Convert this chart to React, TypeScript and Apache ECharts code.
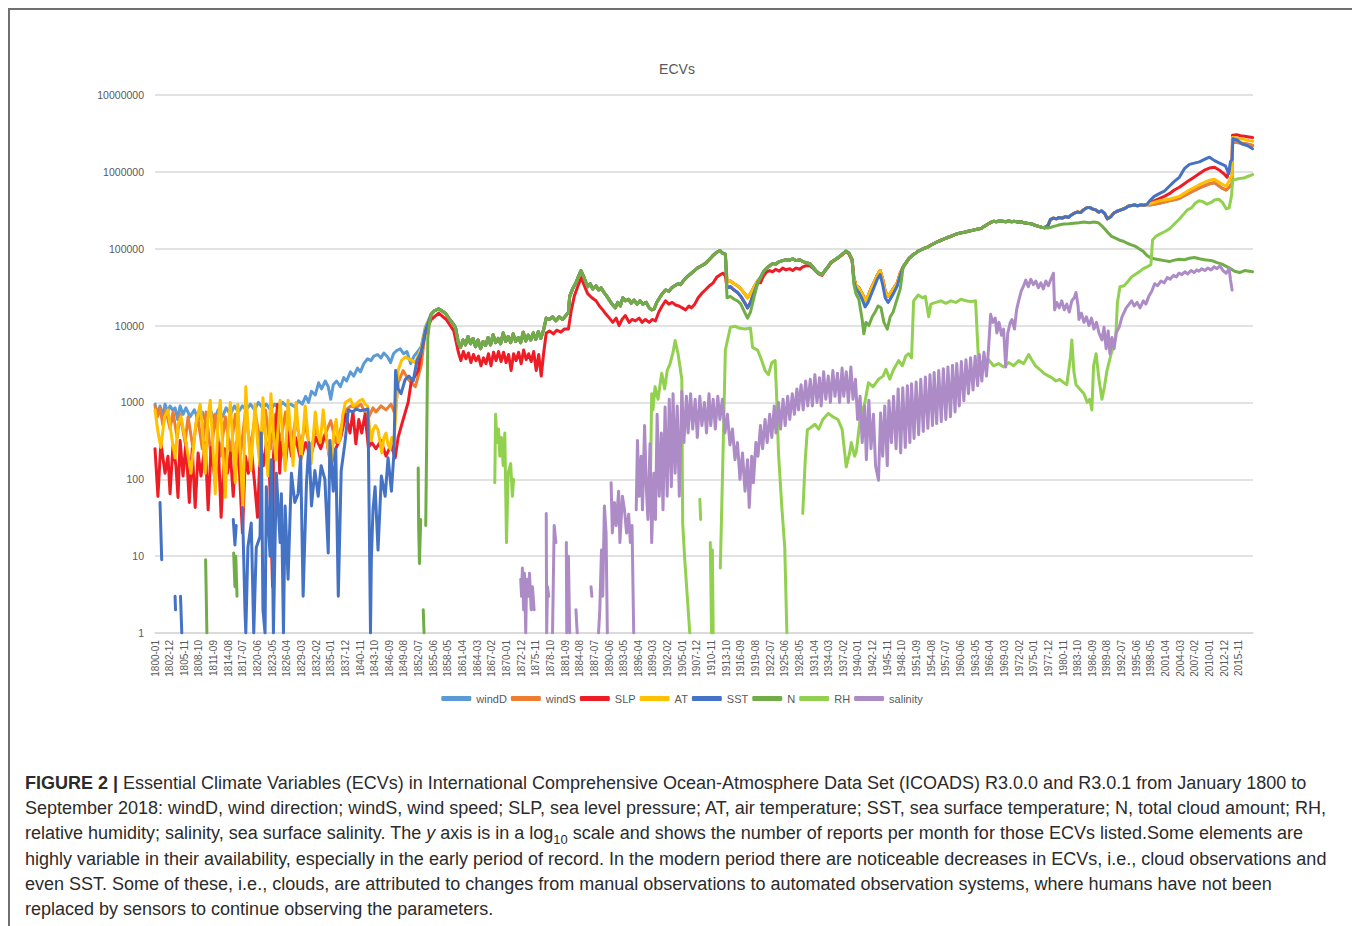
import React, { useEffect, useRef } from "react";
import * as echarts from "echarts";

type P = [number, number] | null;

// ---- categories (months 1800-01 .. 2018-09) ----
const FIRST_YEAR = 1800;
const MONTH_COUNT = 2625;
const monthLabels: string[] = [];
for (let i = 0; i < MONTH_COUNT; i++) {
  const y = FIRST_YEAR + Math.floor(i / 12);
  const m = (i % 12) + 1;
  monthLabels.push(`${y}-${m < 10 ? "0" : ""}${m}`);
}
const yTickValues = [1, 10, 100, 1000, 10000, 100000, 1000000, 10000000];
const seriesNames = ["windD", "windS", "SLP", "AT", "SST", "N", "RH", "salinity"];

// ---- readings: [decimal year, reports per month]; null = gap ----
const windDEarly: P[] = [[1800.0,950],[1800.5,700],[1801.0,900],[1801.5,650],[1802.0,950],[1802.5,750],[1803.0,900],[1803.5,800],[1804.0,850],[1804.5,600],[1805.0,900],[1805.6,700],[1806.2,850],[1807.0,650],[1807.8,800],[1808.6,600],[1809.4,750],[1810.2,550],[1811.0,800],[1811.8,600],[1812.6,800],[1813.4,650],[1814.2,850],[1815.0,700],[1815.8,900],[1816.6,750],[1817.4,900],[1818.2,800],[1819.0,950],[1819.8,800],[1820.6,1000],[1821.4,850],[1822.2,950],[1823.0,800],[1823.8,950],[1824.6,850],[1825.4,1000],[1826.2,900],[1827.0,950],[1827.8,880],[1828.6,1050],[1829.3,950],[1830.0,1200],[1830.6,1000],[1831.2,1400],[1831.9,1250],[1832.6,1800],[1833.2,1500],[1833.9,1900],[1834.5,1600],[1835.0,1100],[1835.5,1700],[1836.2,1900],[1836.9,1600],[1837.6,2100],[1838.2,1900],[1838.9,2500],[1839.6,2200],[1840.3,2800],[1840.9,2500],[1841.6,3200],[1842.3,3700],[1843.0,3500],[1843.6,4000],[1844.3,4200],[1845.0,3800],[1845.6,4400],[1846.3,3900],[1846.9,3300],[1847.5,4300],[1848.1,4700],[1848.8,5000],[1849.5,4300],[1850.2,4600],[1850.9,3200],[1851.6,4000],[1852.3,4600],[1853.0,5300],[1853.8,9500]];

const windSEarly: P[] = [[1800.0,900],[1800.5,650],[1801.0,850],[1801.6,500],[1802.2,800],[1803.0,450],[1803.6,750],[1804.4,350],[1805.0,700],[1806.0,300],[1806.6,650],[1807.6,250],[1808.4,700],[1809.4,250],[1810.2,750],[1811.2,200],[1812.0,700],[1813.0,200],[1814.0,650],[1815.0,220],[1816.0,700],[1817.0,200],[1818.0,750],[1819.0,250],[1820.0,700],[1821.0,300],[1822.0,800],[1823.0,250],[1824.0,700],[1825.0,300],[1826.0,750],[1827.0,250],[1828.0,600],[1829.0,300],[1830.0,500],[1831.0,220],[1832.0,450],[1833.0,300],[1834.0,400],[1835.0,580],[1836.0,300],[1837.0,450],[1838.0,800],[1839.0,900],[1840.0,850],[1841.0,950],[1842.0,700],[1842.6,650],[1843.4,850],[1844.0,750],[1845.0,900],[1846.0,800],[1847.0,950],[1847.8,700],[1848.4,1800],[1849.4,2600],[1850.4,2000],[1851.8,1600],[1853.0,3000],[1853.8,8500]];

const slpEarly: P[] = [[1800.0,250],[1800.6,60],[1801.2,300],[1802.0,120],[1802.6,200],[1803.0,65],[1803.6,280],[1804.2,150],[1804.6,58],[1805.0,320],[1805.6,110],[1806.2,300],[1806.8,50],[1807.4,250],[1808.0,43],[1808.6,220],[1809.2,110],[1810.0,300],[1810.6,40],[1811.2,260],[1812.0,90],[1812.6,300],[1813.2,32],[1813.8,250],[1814.4,120],[1815.0,220],[1815.6,60],[1816.2,300],[1816.8,120],[1817.4,20],[1818.0,200],[1818.6,120],[1819.2,250],[1819.8,90],[1820.4,32],[1821.0,280],[1821.6,150],[1822.2,300],[1822.8,100],[1823.4,4],[1823.6,200],[1824.4,950],[1824.8,120],[1825.2,300],[1826.0,160],[1826.6,400],[1827.2,200],[1828.0,350],[1829.0,180],[1830.0,300],[1831.0,200],[1832.0,350],[1833.0,250],[1834.0,400],[1835.0,150],[1836.0,250],[1837.0,350],[1838.0,700],[1838.8,400],[1839.4,750],[1840.0,290],[1840.6,600],[1841.2,400],[1841.8,700],[1842.5,260],[1843.2,300],[1844.0,250],[1845.0,320],[1846.0,200],[1847.0,280],[1847.8,190],[1848.4,350],[1849.4,600],[1850.4,1000],[1851.0,1800],[1852.4,2600],[1853.0,4500],[1853.8,8000]];

const atEarly: P[] = [[1800.0,800],[1800.6,420],[1801.2,260],[1801.9,650],[1802.6,800],[1803.3,350],[1804.0,190],[1804.6,500],[1805.2,650],[1806.2,300],[1807.2,120],[1808.1,500],[1809.0,950],[1809.5,400],[1810.0,120],[1810.5,600],[1811.0,1070],[1811.5,300],[1812.0,65],[1812.5,500],[1813.0,1070],[1813.5,250],[1814.0,58],[1814.5,400],[1815.0,1000],[1815.5,300],[1816.0,90],[1816.5,950],[1817.0,200],[1817.5,43],[1818.1,1600],[1818.6,400],[1819.1,130],[1819.9,950],[1820.4,300],[1820.9,150],[1821.5,1150],[1822.0,350],[1822.5,110],[1823.1,1300],[1823.6,400],[1824.1,180],[1824.9,1070],[1825.4,350],[1825.9,130],[1826.5,1070],[1827.0,400],[1827.5,150],[1828.1,1000],[1828.6,400],[1829.1,180],[1829.9,900],[1830.5,350],[1831.1,160],[1831.9,750],[1832.4,400],[1832.9,300],[1833.5,800],[1834.0,400],[1834.5,250],[1835.1,140],[1835.6,400],[1836.1,600],[1836.5,300],[1836.9,350],[1837.4,700],[1837.9,1000],[1838.4,1050],[1838.9,1100],[1839.5,900],[1840.1,950],[1840.7,1050],[1841.3,1100],[1841.8,950],[1842.3,900],[1842.7,500],[1843.1,320],[1843.5,450],[1843.9,500],[1844.4,440],[1844.8,300],[1845.2,220],[1845.6,350],[1846.0,400],[1846.4,280],[1846.8,250],[1847.2,350],[1847.6,300],[1848.0,800],[1848.4,2600],[1849.1,3500],[1849.8,3900],[1850.8,3600],[1851.8,3300],[1852.5,4200],[1853.0,5000],[1853.8,9000]];

const sstEarly: P[] = [[1801.0,50],[1801.3,9],null,[1804.0,3],[1804.1,2],null,[1805.1,3],[1805.3,1],null,[1815.6,30],[1815.9,14],[1816.2,25],null,[1817.4,43],[1817.9,2],[1818.1,1],[1818.5,13],[1819.2,27],[1819.7,1],[1820.2,13],[1820.9,18],[1821.2,400],[1821.5,2],[1821.9,1],[1822.2,80],[1822.9,10],[1823.2,180],[1823.6,1],[1824.2,120],[1824.9,15],[1825.2,65],[1825.6,1],[1825.9,45],[1826.5,5],[1827.2,120],[1827.8,50],[1828.5,65],[1829.0,200],[1829.5,3],[1830.2,90],[1830.7,300],[1831.2,45],[1831.8,130],[1832.5,60],[1833.1,150],[1833.8,100],[1834.5,11],[1834.8,320],[1835.5,70],[1836.0,250],[1836.5,3],[1837.1,130],[1837.8,300],[1838.5,800],[1839.3,750],[1840.1,820],[1840.9,780],[1841.6,800],[1842.4,820],[1842.9,1],[1843.1,9],[1843.4,40],[1843.8,80],[1844.4,12],[1845.1,110],[1845.8,60],[1846.4,190],[1847.1,70],[1847.6,220],[1847.9,2600],[1848.4,1500],[1849.0,1300],[1849.8,2000],[1850.6,2200],[1851.4,1900],[1852.2,3500],[1853.0,4500],[1853.8,8500]];

const nEarly: P[] = [[1810.1,9],[1810.3,1],null,[1815.7,11],[1815.9,4],[1816.1,10],[1816.3,3],null,[1852.4,140],[1852.5,25],[1852.7,8],[1852.9,30],null,[1853.4,2],[1853.6,1],null,[1853.9,25],[1854.3,7000],[1854.7,11000]];

const shared1855to1913: P[] = [[1855.0,14000],[1855.6,15500],[1856.5,16500],[1857.2,15500],[1857.8,14500],[1858.5,12500],[1859.2,11000],[1859.8,9500],[1860.4,6000],[1860.8,5200],[1861.3,6500],[1861.8,5600],[1862.3,7200],[1862.8,5800],[1863.3,6800],[1863.8,5300],[1864.3,6500],[1864.8,5000],[1865.3,6200],[1865.8,5500],[1866.3,7000],[1866.8,5600],[1867.3,7600],[1867.8,6000],[1868.3,6800],[1868.8,5800],[1869.3,8000],[1869.8,6200],[1870.3,7200],[1870.8,6000],[1871.3,7800],[1871.8,6200],[1872.3,7000],[1872.8,6000],[1873.3,8200],[1873.8,6300],[1874.3,7500],[1874.8,6500],[1875.3,8000],[1875.8,6600],[1876.3,8300],[1876.8,6800],[1877.4,9000],[1877.9,12500],[1878.5,12000],[1879.2,13000],[1879.8,11500],[1880.5,13000],[1881.2,12000],[1881.8,13500],[1882.3,15000],[1882.6,24000],[1883.2,30000],[1883.8,36000],[1884.4,45000],[1884.8,52000],[1885.3,44000],[1885.8,36000],[1886.2,32000],[1886.7,35000],[1887.2,30000],[1887.8,33000],[1888.3,29000],[1888.8,31000],[1889.4,27000],[1890.0,24000],[1890.6,21000],[1891.2,18500],[1891.7,17000],[1892.2,20000],[1892.7,18000],[1893.2,23000],[1893.7,21000],[1894.3,22000],[1894.8,19500],[1895.4,21500],[1896.0,19000],[1896.6,21000],[1897.2,19000],[1897.8,20000],[1898.4,17000],[1898.9,16000],[1899.4,16500],[1899.9,20000],[1900.5,23000],[1901.0,26000],[1901.7,29000],[1902.3,28000],[1902.9,31000],[1903.5,33000],[1904.2,35000],[1904.7,34000],[1905.3,39000],[1905.9,43000],[1906.8,48000],[1907.4,52000],[1908.0,56000],[1908.8,60000],[1909.6,64000],[1910.3,72000],[1911.0,80000],[1911.7,88000],[1912.5,95000],[1913.0,88000],[1913.6,85000]];

const slp1855to1913: P[] = [[1855.0,12000],[1856.5,14500],[1858.0,12000],[1859.5,8500],[1860.4,4500],[1860.9,3500],[1861.4,4600],[1861.9,3700],[1862.4,4400],[1862.9,3300],[1863.4,4200],[1863.9,3500],[1864.4,4000],[1864.9,3000],[1865.4,3800],[1865.9,3200],[1866.4,4300],[1866.9,3000],[1867.4,4500],[1867.9,3500],[1868.4,4600],[1868.9,3400],[1869.4,4500],[1869.9,3300],[1870.4,4200],[1870.9,2600],[1871.4,4300],[1871.9,3500],[1872.4,4500],[1872.9,3200],[1873.4,4800],[1873.9,3600],[1874.4,4300],[1874.9,3400],[1875.4,4600],[1875.9,2600],[1876.4,4200],[1876.9,2200],[1877.4,4500],[1877.9,8000],[1878.6,8500],[1879.3,7800],[1880.0,8700],[1880.8,8200],[1881.5,9000],[1882.3,9000],[1882.9,16000],[1883.5,24000],[1884.2,32000],[1884.9,42000],[1885.5,33000],[1886.2,26000],[1887.0,23000],[1887.8,21000],[1888.5,18000],[1889.2,16000],[1889.8,14000],[1890.5,12500],[1891.2,11000],[1891.8,12500],[1892.4,10000],[1893.0,12000],[1893.7,13500],[1894.4,11000],[1895.0,12000],[1895.7,11500],[1896.4,12500],[1897.0,11000],[1897.7,12000],[1898.4,11000],[1899.0,12000],[1899.7,11500],[1900.3,15000],[1901.0,18000],[1901.7,21000],[1902.3,19000],[1903.0,20000],[1903.7,18500],[1904.3,18000],[1905.0,17000],[1905.7,16000],[1906.3,18000],[1906.8,17000],[1907.5,19000],[1908.2,23000],[1908.8,26000],[1909.6,29000],[1910.4,33000],[1911.2,36000],[1911.9,43000],[1912.6,46000],[1913.2,48000],[1913.6,44000]];

const dip1914Upper: P[] = [[1913.9,37000],[1914.6,38000],[1915.3,35000],[1916.0,33000],[1916.7,30000],[1917.4,26000],[1918.0,23000],[1918.6,26000],[1919.3,32000],[1920.0,38000]];
const dip1914Sst: P[] = [[1913.9,31000],[1914.6,32000],[1915.3,29000],[1916.0,27000],[1916.7,24000],[1917.4,20000],[1918.0,17000],[1918.6,20000],[1919.3,27000],[1920.0,36000]];
const dip1914N: P[] = [[1913.9,23000],[1914.6,24000],[1915.3,22000],[1916.0,21000],[1916.7,19000],[1917.4,15000],[1918.0,12500],[1918.6,15000],[1919.3,24000],[1920.0,35000]];

const shared1920to1938: P[] = [[1920.6,42000],[1921.2,50000],[1921.8,56000],[1922.4,60000],[1923.0,64000],[1923.6,63000],[1924.3,68000],[1925.0,70000],[1925.7,72000],[1926.4,71000],[1927.0,74000],[1927.7,70000],[1928.4,72000],[1929.0,68000],[1929.7,66000],[1930.4,64000],[1931.0,58000],[1931.6,52000],[1932.2,48000],[1932.8,46000],[1933.4,52000],[1934.0,58000],[1934.6,66000],[1935.2,70000],[1935.8,75000],[1936.4,80000],[1937.0,86000],[1937.6,93000],[1938.2,88000],[1938.8,72000]];
const slp1920to1938: P[] = [[1920.6,36000],[1921.2,44000],[1921.8,50000],[1922.4,52000],[1923.0,50000],[1923.6,54000],[1924.3,51000],[1925.0,56000],[1925.7,53000],[1926.4,55000],[1927.0,52000],[1927.7,56000],[1928.4,54000],[1929.0,58000],[1929.7,60000],[1930.4,60000],[1931.0,56000],[1931.6,51000],[1932.2,47000],[1932.8,45000],[1933.4,51000],[1934.0,57000],[1934.6,65000],[1935.2,69000],[1935.8,74000],[1936.4,79000],[1937.0,85000],[1937.6,91000],[1938.2,86000],[1938.8,70000]];

const dip1939Upper: P[] = [[1939.2,42000],[1939.6,33000],[1940.2,31000],[1940.8,26000],[1941.4,21000],[1942.0,24000],[1942.6,30000],[1943.2,36000],[1943.8,45000],[1944.4,52000],[1944.9,40000],[1945.4,28000],[1946.0,24000],[1946.6,27000],[1947.2,31000],[1947.8,36000],[1948.4,48000]];
const dip1939Sst: P[] = [[1939.2,38000],[1939.6,30000],[1940.2,27000],[1940.8,22000],[1941.4,17500],[1942.0,20000],[1942.6,25000],[1943.2,31000],[1943.8,40000],[1944.4,46000],[1944.9,34000],[1945.4,23000],[1946.0,20000],[1946.6,23000],[1947.2,27000],[1947.8,33000],[1948.4,45000]];
const dip1939N: P[] = [[1939.2,35000],[1939.6,26000],[1940.2,22000],[1940.8,12000],[1941.2,7800],[1941.6,11000],[1942.2,10000],[1942.8,13000],[1943.4,15000],[1944.0,18000],[1944.6,17000],[1945.2,11000],[1945.8,9000],[1946.4,13000],[1947.0,15000],[1947.6,20000],[1948.4,30000]];

const shared1949to1977: P[] = [[1949.0,58000],[1949.6,66000],[1950.2,75000],[1950.8,82000],[1951.4,87000],[1952.0,93000],[1952.6,97000],[1953.2,101000],[1953.8,105000],[1954.4,110000],[1955.0,116000],[1955.6,121000],[1956.2,126000],[1956.8,131000],[1957.4,136000],[1958.0,141000],[1958.6,146000],[1959.2,151000],[1959.8,157000],[1960.4,160000],[1961.0,163000],[1961.6,166000],[1962.2,170000],[1962.8,174000],[1963.4,178000],[1964.0,180000],[1964.6,184000],[1965.2,196000],[1965.8,208000],[1966.4,220000],[1967.0,227000],[1967.6,224000],[1968.2,230000],[1968.8,227000],[1969.4,224000],[1970.0,229000],[1970.6,224000],[1971.2,227000],[1971.8,222000],[1972.4,225000],[1973.0,218000],[1973.6,215000],[1974.2,212000],[1974.8,208000],[1975.4,200000],[1976.0,195000],[1976.6,190000],[1977.2,188000]];

const upper1978to1997: P[] = [[1977.8,200000],[1978.3,240000],[1978.9,250000],[1979.5,245000],[1980.1,255000],[1980.7,250000],[1981.3,262000],[1981.9,255000],[1982.5,275000],[1983.1,290000],[1983.7,300000],[1984.3,295000],[1984.9,320000],[1985.5,340000],[1986.1,345000],[1986.7,330000],[1987.3,320000],[1987.9,300000],[1988.5,310000],[1989.1,290000],[1989.7,245000],[1990.3,260000],[1990.9,290000],[1991.5,305000],[1992.1,315000],[1992.7,325000],[1993.3,340000],[1993.9,360000],[1994.5,365000],[1995.1,370000],[1995.7,362000],[1996.3,372000],[1996.9,368000],[1997.5,375000]];

const windLate: P[] = [[1998.1,370000],[2000.0,390000],[2002.0,420000],[2004.0,450000],[2006.0,530000],[2008.0,620000],[2010.0,700000],[2011.0,720000],[2012.4,620000],[2013.3,580000],[2014.0,640000],[2014.5,700000],[2014.6,2500000],[2015.5,2400000],[2016.5,2350000],[2017.5,2300000],[2018.6,2200000]];
const slpLate: P[] = [[1998.1,390000],[1999.0,420000],[2000.0,450000],[2001.0,480000],[2002.0,520000],[2003.0,580000],[2004.0,630000],[2005.0,700000],[2006.0,780000],[2007.0,860000],[2008.0,950000],[2009.0,1050000],[2010.0,1120000],[2011.0,1150000],[2012.0,1050000],[2012.8,950000],[2013.5,850000],[2014.2,1200000],[2014.5,1300000],[2014.6,3000000],[2015.4,3050000],[2016.2,2950000],[2017.0,2900000],[2017.8,2850000],[2018.6,2800000]];
const atLate: P[] = [[1998.1,385000],[2000.0,420000],[2002.0,440000],[2004.0,480000],[2006.0,580000],[2008.0,680000],[2010.0,780000],[2011.0,800000],[2012.4,700000],[2013.3,650000],[2014.0,780000],[2014.5,900000],[2014.6,2800000],[2015.4,2750000],[2016.2,2700000],[2017.0,2650000],[2017.8,2550000],[2018.6,2500000]];
const sstLate: P[] = [[1998.1,420000],[1999.0,480000],[2000.0,520000],[2001.0,560000],[2002.0,650000],[2003.0,750000],[2004.0,850000],[2005.0,1100000],[2006.0,1250000],[2007.0,1300000],[2008.0,1350000],[2009.0,1450000],[2010.0,1550000],[2011.0,1400000],[2012.0,1300000],[2013.2,1200000],[2013.8,950000],[2014.2,1350000],[2014.5,1450000],[2014.7,2700000],[2015.5,2600000],[2016.5,2300000],[2017.5,2200000],[2018.6,2000000]];
const nLate: P[] = [[1977.8,186000],[1978.4,190000],[1979.0,195000],[1979.6,200000],[1980.2,205000],[1981.0,210000],[1982.0,212000],[1983.0,215000],[1984.0,218000],[1985.0,222000],[1986.0,218000],[1987.0,222000],[1987.8,218000],[1988.5,200000],[1989.2,180000],[1989.8,160000],[1990.5,145000],[1991.2,138000],[1992.0,130000],[1992.8,125000],[1993.6,118000],[1994.4,112000],[1995.2,108000],[1996.0,100000],[1996.8,92000],[1997.5,82000],[1998.2,77000],[1999.0,74000],[2000.0,72000],[2001.0,70000],[2002.0,68000],[2003.0,71000],[2004.0,73000],[2005.0,72000],[2006.0,75000],[2007.0,77000],[2008.0,74000],[2009.0,72000],[2010.5,70000],[2011.5,66000],[2012.5,63000],[2013.3,59000],[2014.0,56000],[2015.0,51000],[2016.0,49000],[2017.0,52000],[2018.6,50000]];

const rhValues: P[] = [[1867.7,90],[1867.8,700],[1868.1,300],[1868.4,450],[1868.7,200],[1869.0,350],[1869.3,150],[1869.7,400],[1870.0,15],[1870.3,120],[1870.8,160],[1871.2,60],[1871.4,100],null,
[1898.6,40],[1898.9,1300],[1899.2,800],[1899.6,1600],[1900.2,1100],[1900.9,2400],[1901.5,1500],[1902.0,2600],[1902.6,3200],[1903.2,4500],[1903.6,6400],[1904.2,4300],[1904.9,2000],[1905.1,27],[1905.5,9],[1906.5,1],null,
[1908.5,55],[1908.7,30],null,[1910.6,15],[1910.8,1],[1911.0,12],[1911.2,1],null,
[1912.6,7],[1913.2,300],[1913.6,4800],[1914.6,9500],[1915.5,9800],[1916.5,9200],[1917.5,9000],[1918.6,9300],[1919.0,5200],[1920.0,4800],[1920.8,3500],[1921.5,2600],[1922.2,2300],[1922.8,3300],[1923.5,3500],[1923.8,1050],[1924.2,220],[1924.8,43],[1925.4,13],[1925.8,1],null,
[1929.0,36],[1929.5,180],[1929.9,440],[1930.6,470],[1931.4,520],[1932.2,450],[1933.0,600],[1934.1,720],[1935.0,650],[1936.0,600],[1936.8,450],[1937.7,145],[1938.3,220],[1938.7,300],[1939.3,200],[1939.7,230],[1940.4,600],[1941.3,970],[1942.1,1800],[1943.0,1600],[1944.1,2000],[1945.0,2200],[1945.6,2700],[1946.3,2000],[1947.0,2600],[1948.1,3500],[1948.8,3000],[1949.5,4000],[1950.1,4300],[1950.7,3800],[1951.1,21000],[1952.0,25000],[1952.8,23000],[1953.4,24000],[1954.1,13000],[1954.5,19000],[1955.5,20000],[1956.5,21000],[1957.5,19500],[1958.5,21000],[1959.5,20000],[1960.5,22000],[1961.5,21000],[1962.5,20500],[1963.4,21000],[1964.0,3500],[1965.0,3200],[1966.0,3600],[1967.0,3000],[1968.0,3200],[1969.0,2900],[1970.0,3300],[1971.0,3000],[1972.0,3500],[1973.0,3200],[1974.0,4200],[1974.6,3600],[1975.3,3000],[1976.2,2700],[1977.0,2400],[1978.0,2200],[1978.6,2100],[1979.4,1900],[1980.2,2000],[1981.0,1800],[1981.6,1700],[1982.3,4000],[1982.6,6500],[1983.0,2500],[1983.4,1700],[1984.2,1500],[1985.0,1300],[1985.7,1000],[1986.2,1100],[1986.6,800],[1986.9,3000],[1987.4,4300],[1988.0,2000],[1988.6,1100],[1989.1,1600],[1989.6,2600],[1990.4,4300],[1990.9,5500],[1991.3,7000],[1991.7,20000],[1992.2,32000],[1993.0,33000],[1993.8,38000],[1994.5,43000],[1995.3,47000],[1996.0,50000],[1996.8,55000],[1997.6,58000],[1998.3,62000],[1998.7,130000],[1999.3,145000],[2000.1,155000],[2001.3,170000],[2002.2,185000],[2003.0,210000],[2003.9,240000],[2004.8,280000],[2005.6,320000],[2006.4,340000],[2007.2,390000],[2007.9,420000],[2008.7,410000],[2009.5,380000],[2010.3,400000],[2011.0,430000],[2011.8,440000],[2012.6,400000],[2013.3,330000],[2013.9,340000],[2014.4,500000],[2014.6,780000],[2015.3,800000],[2016.0,820000],[2016.8,830000],[2017.6,870000],[2018.6,920000]];

const salinityValues: P[] = [[1872.8,5],[1873.0,3],[1873.2,7],[1873.4,2],[1873.6,6],[1873.8,1],[1874.0,5],[1874.3,3],[1874.6,6],[1874.9,2],[1875.2,4],[1875.5,2],null,
[1877.9,36],[1878.0,1],[1878.2,4],[1878.4,3],null,[1879.2,1],[1879.5,25],[1879.8,15],null,
[1881.9,15],[1882.0,1],[1882.3,10],[1882.6,1],null,[1883.8,2],[1884.1,1],null,[1886.8,4],[1887.0,3],null,
[1888.3,1],[1888.6,2],[1888.9,12],[1889.2,3],[1889.5,45],[1889.8,20],[1890.1,1],null,
[1890.8,90],[1891.1,20],[1891.5,50],[1891.8,25],[1892.3,70],[1892.6,15],[1893.1,60],[1893.5,40],[1893.9,20],[1894.3,35],[1894.7,15],[1895.0,25],[1895.3,1],null,
[1895.8,40],[1896.1,320],[1896.4,60],[1896.8,200],[1897.1,40],[1897.5,500],[1897.8,80],[1898.2,30],[1898.6,290],[1898.9,15],[1899.3,120],[1899.7,30],[1900.0,700],[1900.4,60],[1900.8,400],[1901.2,40],[1901.6,870],[1902.0,60],[1902.4,1100],[1902.8,80],[1903.2,1300],[1903.6,120],[1904.0,900],[1904.4,60],[1904.9,1400],[1905.3,300],[1905.8,1200],[1906.2,400],[1906.7,1300],[1907.1,450],[1907.6,1100],[1908.0,350],[1908.5,1200],[1908.9,500],[1909.4,1000],[1909.8,400],[1910.3,1300],[1910.7,500],[1911.2,1100],[1911.6,450],[1912.1,1200],[1912.5,600],[1913.0,1100],[1913.5,400],[1914.0,700],[1914.5,280],[1915.0,450],[1915.5,180],[1916.0,300],[1916.5,100],[1917.0,220],[1917.5,70],[1918.0,180],[1918.3,43],[1918.8,200],[1919.2,90],[1919.7,300],[1920.1,200],[1920.6,500],[1921.0,250],[1921.5,600],[1921.9,300],[1922.4,700],[1922.8,350],[1923.3,900],[1923.7,400],[1924.2,1000],[1924.6,450],[1925.1,1100],[1925.5,500],[1926.0,1200],[1926.4,600],[1926.9,1300],[1927.3,700],[1927.8,1500],[1928.2,800],[1928.7,1700],[1929.1,800],[1929.6,1900],[1930.0,900],[1930.5,2000],[1930.9,900],[1931.4,2300],[1931.8,1000],[1932.3,2100],[1932.7,900],[1933.2,2500],[1933.6,1100],[1934.1,2200],[1934.5,1000],[1935.0,2600],[1935.4,1200],[1935.9,2400],[1936.3,1000],[1936.8,2800],[1937.2,1200],[1937.7,2500],[1938.1,1000],[1938.6,2900],[1939.0,1100],[1939.5,2000],[1939.9,600],[1940.4,1200],[1940.8,300],[1941.3,900],[1941.7,180],[1942.2,1070],[1942.6,250],[1943.1,700],[1943.5,150],[1944.1,97],[1944.5,730],[1944.9,200],[1945.3,900],[1945.8,150],[1946.2,1050],[1946.7,300],[1947.1,1200],[1947.6,250],[1948.0,1500],[1948.5,220],[1948.9,1550],[1949.4,260],[1949.8,1650],[1950.3,300],[1950.7,1750],[1951.2,340],[1951.6,1850],[1952.1,380],[1952.5,2000],[1953.0,420],[1953.4,2150],[1953.9,460],[1954.3,2300],[1954.8,500],[1955.2,2450],[1955.7,530],[1956.1,2600],[1956.6,560],[1957.0,2750],[1957.5,600],[1957.9,2900],[1958.4,650],[1958.8,3050],[1959.3,750],[1959.7,3200],[1960.2,900],[1960.6,3400],[1961.1,1050],[1961.5,3600],[1962.0,1300],[1962.4,3800],[1962.9,1450],[1963.3,4000],[1963.8,1650],[1964.2,4200],[1964.7,1900],[1965.1,4500],[1965.6,2200],[1966.0,5000],[1966.4,14000],[1966.8,11000],[1967.3,12500],[1967.7,8000],[1968.1,11000],[1968.6,7500],[1969.0,9000],[1969.4,2900],[1969.8,8000],[1970.3,11000],[1970.7,12000],[1971.2,9000],[1971.6,16000],[1972.0,21000],[1972.5,28000],[1973.0,33000],[1973.4,39000],[1973.9,32000],[1974.4,40000],[1974.9,34000],[1975.4,38000],[1975.9,31000],[1976.4,36000],[1976.9,30000],[1977.4,38000],[1977.9,33000],[1978.4,40000],[1978.9,48000],[1979.2,16000],[1979.6,20000],[1980.1,17000],[1980.6,21000],[1981.1,16000],[1981.6,19000],[1982.1,15000],[1982.6,21000],[1983.1,23000],[1983.4,27000],[1983.8,18000],[1984.0,12000],[1984.5,14500],[1985.0,11000],[1985.5,13000],[1986.0,10000],[1986.5,12500],[1987.0,9000],[1987.5,11000],[1988.0,8000],[1988.6,6500],[1989.0,9500],[1989.4,5000],[1989.8,8500],[1990.2,4300],[1990.6,7000],[1991.0,5000],[1991.4,8000],[1992.0,9500],[1992.6,13000],[1993.4,17000],[1994.0,19000],[1994.5,21000],[1995.0,18000],[1995.6,20000],[1996.2,17000],[1996.8,21000],[1997.3,19000],[1997.9,24000],[1998.5,28000],[1999.1,35000],[1999.7,33000],[2000.3,38000],[2001.0,36000],[2001.6,42000],[2002.2,40000],[2002.8,45000],[2003.4,43000],[2003.9,48000],[2004.5,46000],[2005.1,50000],[2005.7,47000],[2006.3,52000],[2006.9,49000],[2007.5,53000],[2007.9,51000],[2008.5,55000],[2009.1,52000],[2009.7,56000],[2010.3,53000],[2010.9,58000],[2011.5,55000],[2012.1,60000],[2012.7,52000],[2013.3,48000],[2013.9,55000],[2014.2,40000],[2014.5,29000]];

const seriesColors = ["#5b9bd5", "#ed7d31", "#ee1c25", "#ffc000", "#4472c4", "#70ad47", "#92d050", "#ad8bc6"];

const seriesParts: P[][][] = [
  [windDEarly, shared1855to1913, dip1914Upper, shared1920to1938, dip1939Upper, shared1949to1977, upper1978to1997, windLate],
  [windSEarly, shared1855to1913, dip1914Upper, shared1920to1938, dip1939Upper, shared1949to1977, upper1978to1997, windLate],
  [slpEarly, slp1855to1913, dip1914Sst, slp1920to1938, dip1939Upper, shared1949to1977, upper1978to1997, slpLate],
  [atEarly, shared1855to1913, dip1914Upper, shared1920to1938, dip1939Upper, shared1949to1977, upper1978to1997, atLate],
  [sstEarly, shared1855to1913, dip1914Sst, shared1920to1938, dip1939Sst, shared1949to1977, upper1978to1997, sstLate],
  [nEarly, shared1855to1913, dip1914N, shared1920to1938, dip1939N, shared1949to1977, nLate],
  [rhValues],
  [salinityValues],
];

function toData(parts: P[][]): any[] {
  const out: any[] = [];
  let last = 0;
  for (const part of parts) {
    for (const p of part) {
      if (p === null) {
        out.push([Math.min(MONTH_COUNT - 1, last + 1), "-"]);
        continue;
      }
      const idx = Math.min(MONTH_COUNT - 1, Math.max(0, Math.round((p[0] - FIRST_YEAR) * 12)));
      out.push([idx, p[1]]);
      last = idx;
    }
  }
  return out;
}

const FONT = '"Liberation Sans", Arial, sans-serif';
const CHART_W = 1348;
const CHART_H = 740;

export default function App() {
  const ref = useRef<HTMLDivElement>(null);
  useEffect(() => {
    if (!ref.current) return;
    const chart = echarts.init(ref.current, undefined, { renderer: "svg" });
    chart.setOption({
      animation: false,
      backgroundColor: "transparent",
      title: {
        text: "ECVs",
        left: 664,
        top: 49,
        textAlign: "center",
        textStyle: { color: "#595959", fontSize: 14, fontWeight: "normal", fontFamily: FONT },
      },
      legend: {
        data: seriesNames,
        left: "center",
        top: 680,
        icon: "roundRect",
        itemWidth: 30,
        itemHeight: 5,
        itemGap: 4,
        textStyle: { color: "#595959", fontSize: 11, fontFamily: FONT },
      },
      grid: { left: 147, right: CHART_W - 1245, top: 87, bottom: CHART_H - 625, containLabel: false },
      xAxis: {
        type: "category",
        data: monthLabels,
        boundaryGap: false,
        axisTick: { show: false },
        axisLine: { lineStyle: { color: "#d9d9d9", width: 1.5 } },
        axisLabel: { interval: 34, rotate: 90, color: "#595959", fontSize: 10, fontFamily: FONT, margin: 7 },
        splitLine: { show: false },
      },
      yAxis: {
        type: "log",
        logBase: 10,
        min: yTickValues[0],
        max: yTickValues[yTickValues.length - 1],
        axisLine: { show: false },
        axisTick: { show: false },
        axisLabel: {
          color: "#595959",
          fontSize: 10.5,
          fontFamily: FONT,
          margin: 11,
          formatter: (v: number) => String(Math.round(v)),
        },
        splitLine: { lineStyle: { color: "#d9d9d9", width: 1.5 } },
      },
      series: seriesNames.map((name, i) => ({
        name,
        type: "line",
        data: toData(seriesParts[i]),
        showSymbol: false,
        symbol: "none",
        connectNulls: false,
        color: seriesColors[i],
        lineStyle: { width: 3, color: seriesColors[i], join: "round", cap: "round" },
        emphasis: { disabled: true },
      })),
    });
    return () => chart.dispose();
  }, []);

  return (
    <div style={{ position: "relative", width: CHART_W, height: 918 }}>
      <div ref={ref} style={{ position: "absolute", left: 0, top: 0, width: CHART_W, height: CHART_H }} />
      <div
        style={{
          position: "absolute",
          left: 17,
          top: 763,
          fontFamily: FONT,
          fontSize: 18,
          lineHeight: "25.2px",
          color: "#2b2b2b",
          whiteSpace: "nowrap",
        }}
      >
        <b>FIGURE 2 |</b> Essential Climate Variables (ECVs) in International Comprehensive Ocean-Atmosphere Data Set (ICOADS) R3.0.0 and R3.0.1 from January 1800 to
        <br />
        September 2018: windD, wind direction; windS, wind speed; SLP, sea level pressure; AT, air temperature; SST, sea surface temperature; N, total cloud amount; RH,
        <br />
        relative humidity; salinity, sea surface salinity. The <i>y</i> axis is in a log
        <sub style={{ fontSize: "0.72em", lineHeight: 0 }}>10</sub> scale and shows the number of reports per month for those ECVs listed.Some elements are
        <br />
        highly variable in their availability, especially in the early period of record. In the modern period there are noticeable decreases in ECVs, i.e., cloud observations and
        <br />
        even SST. Some of these, i.e., clouds, are attributed to changes from manual observations to automated observation systems, where humans have not been
        <br />
        replaced by sensors to continue observing the parameters.
      </div>
      <div
        style={{
          position: "absolute",
          left: 0,
          top: 0,
          width: CHART_W + 1,
          height: 940,
          border: "2px solid #707070",
          boxSizing: "border-box",
          pointerEvents: "none",
        }}
      />
    </div>
  );
}
